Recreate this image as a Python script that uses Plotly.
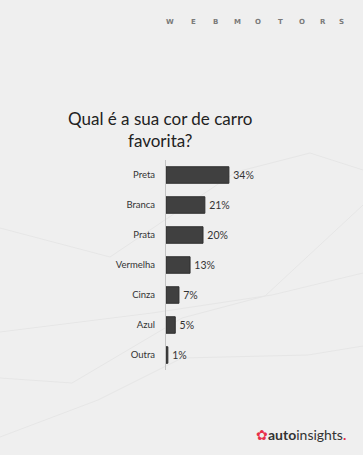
import plotly.graph_objects as go

categories = ["Preta", "Branca", "Prata", "Vermelha", "Cinza", "Azul", "Outra"]
values = [34, 21, 20, 13, 7, 5, 1]
labels = [f"\u2009{v}%" for v in values]
brand_letters = list("WEBMOTORS")

fig = go.Figure(go.Bar(
    x=values, y=categories, orientation="h",
    marker=dict(color="#404040", line=dict(color="#2e2e2e", width=1)),
    text=labels, textposition="outside", cliponaxis=False,
    textfont=dict(family="Lato", size=10.5, color="#333333"),
))

bg = "#efefef"
line_col = "#e6e6e6"

def fx(px): return (px - 166) / 185
def fy(py): return (370 - py) / 210

# faint decorative background lines (pixel coordinates)
deco = [
    [(0, 228), (110, 257), (236, 172), (310, 153), (363, 170)],
    [(0, 378), (72, 383), (182, 318), (265, 296), (363, 205)],
    [(0, 332), (152, 313), (272, 295), (363, 273)],
    [(0, 437), (98, 400), (182, 358), (308, 355), (363, 346)],
]
shapes = []
for pts in deco:
    for (x0, y0), (x1, y1) in zip(pts[:-1], pts[1:]):
        shapes.append(dict(type="line", xref="paper", yref="paper",
                           x0=fx(x0), y0=fy(y0), x1=fx(x1), y1=fy(y1),
                           line=dict(color=line_col, width=1), layer="below"))

annotations = [
    dict(text="Qual é a sua cor de carro<br>favorita?", xref="paper", yref="paper",
         x=fx(160), y=fy(153), xanchor="center", yanchor="bottom",
         showarrow=False, font=dict(family="Lato", size=17, color="#222222"), align="center"),
    dict(text="<span style='color:#e8304a'>✿</span><b>auto</b>insights<span style='color:#e8304a'><b>.</b></span>",
         xref="paper", yref="paper", x=fx(348), y=fy(434), xanchor="right", yanchor="middle",
         showarrow=False, font=dict(family="Lato", size=14, color="#333333")),
]
letter_x = [170, 193, 215, 237, 258, 280, 302, 323, 341]
for ch, px in zip(brand_letters, letter_x):
    annotations.append(dict(text=f"<b>{ch}</b>", xref="paper", yref="paper",
                            x=fx(px), y=fy(22), xanchor="center", yanchor="middle",
                            showarrow=False,
                            font=dict(family="DejaVu Sans", size=7, color="#7a7a7a")))

fig.update_layout(
    width=363, height=455,
    margin=dict(l=166, r=12, t=160, b=85),
    paper_bgcolor=bg, plot_bgcolor=bg,
    showlegend=False,
    bargap=0.45,
    shapes=shapes,
    annotations=annotations,
    xaxis=dict(range=[0, 100], visible=False, fixedrange=True),
    yaxis=dict(autorange="reversed", showline=True, linecolor="#c4c4c4", linewidth=1,
               ticks="", showgrid=False, ticklabelstandoff=8,
               tickfont=dict(family="Lato", size=9.5, color="#333333")),
    font=dict(family="Lato"),
)

fig.write_html("out.html")
